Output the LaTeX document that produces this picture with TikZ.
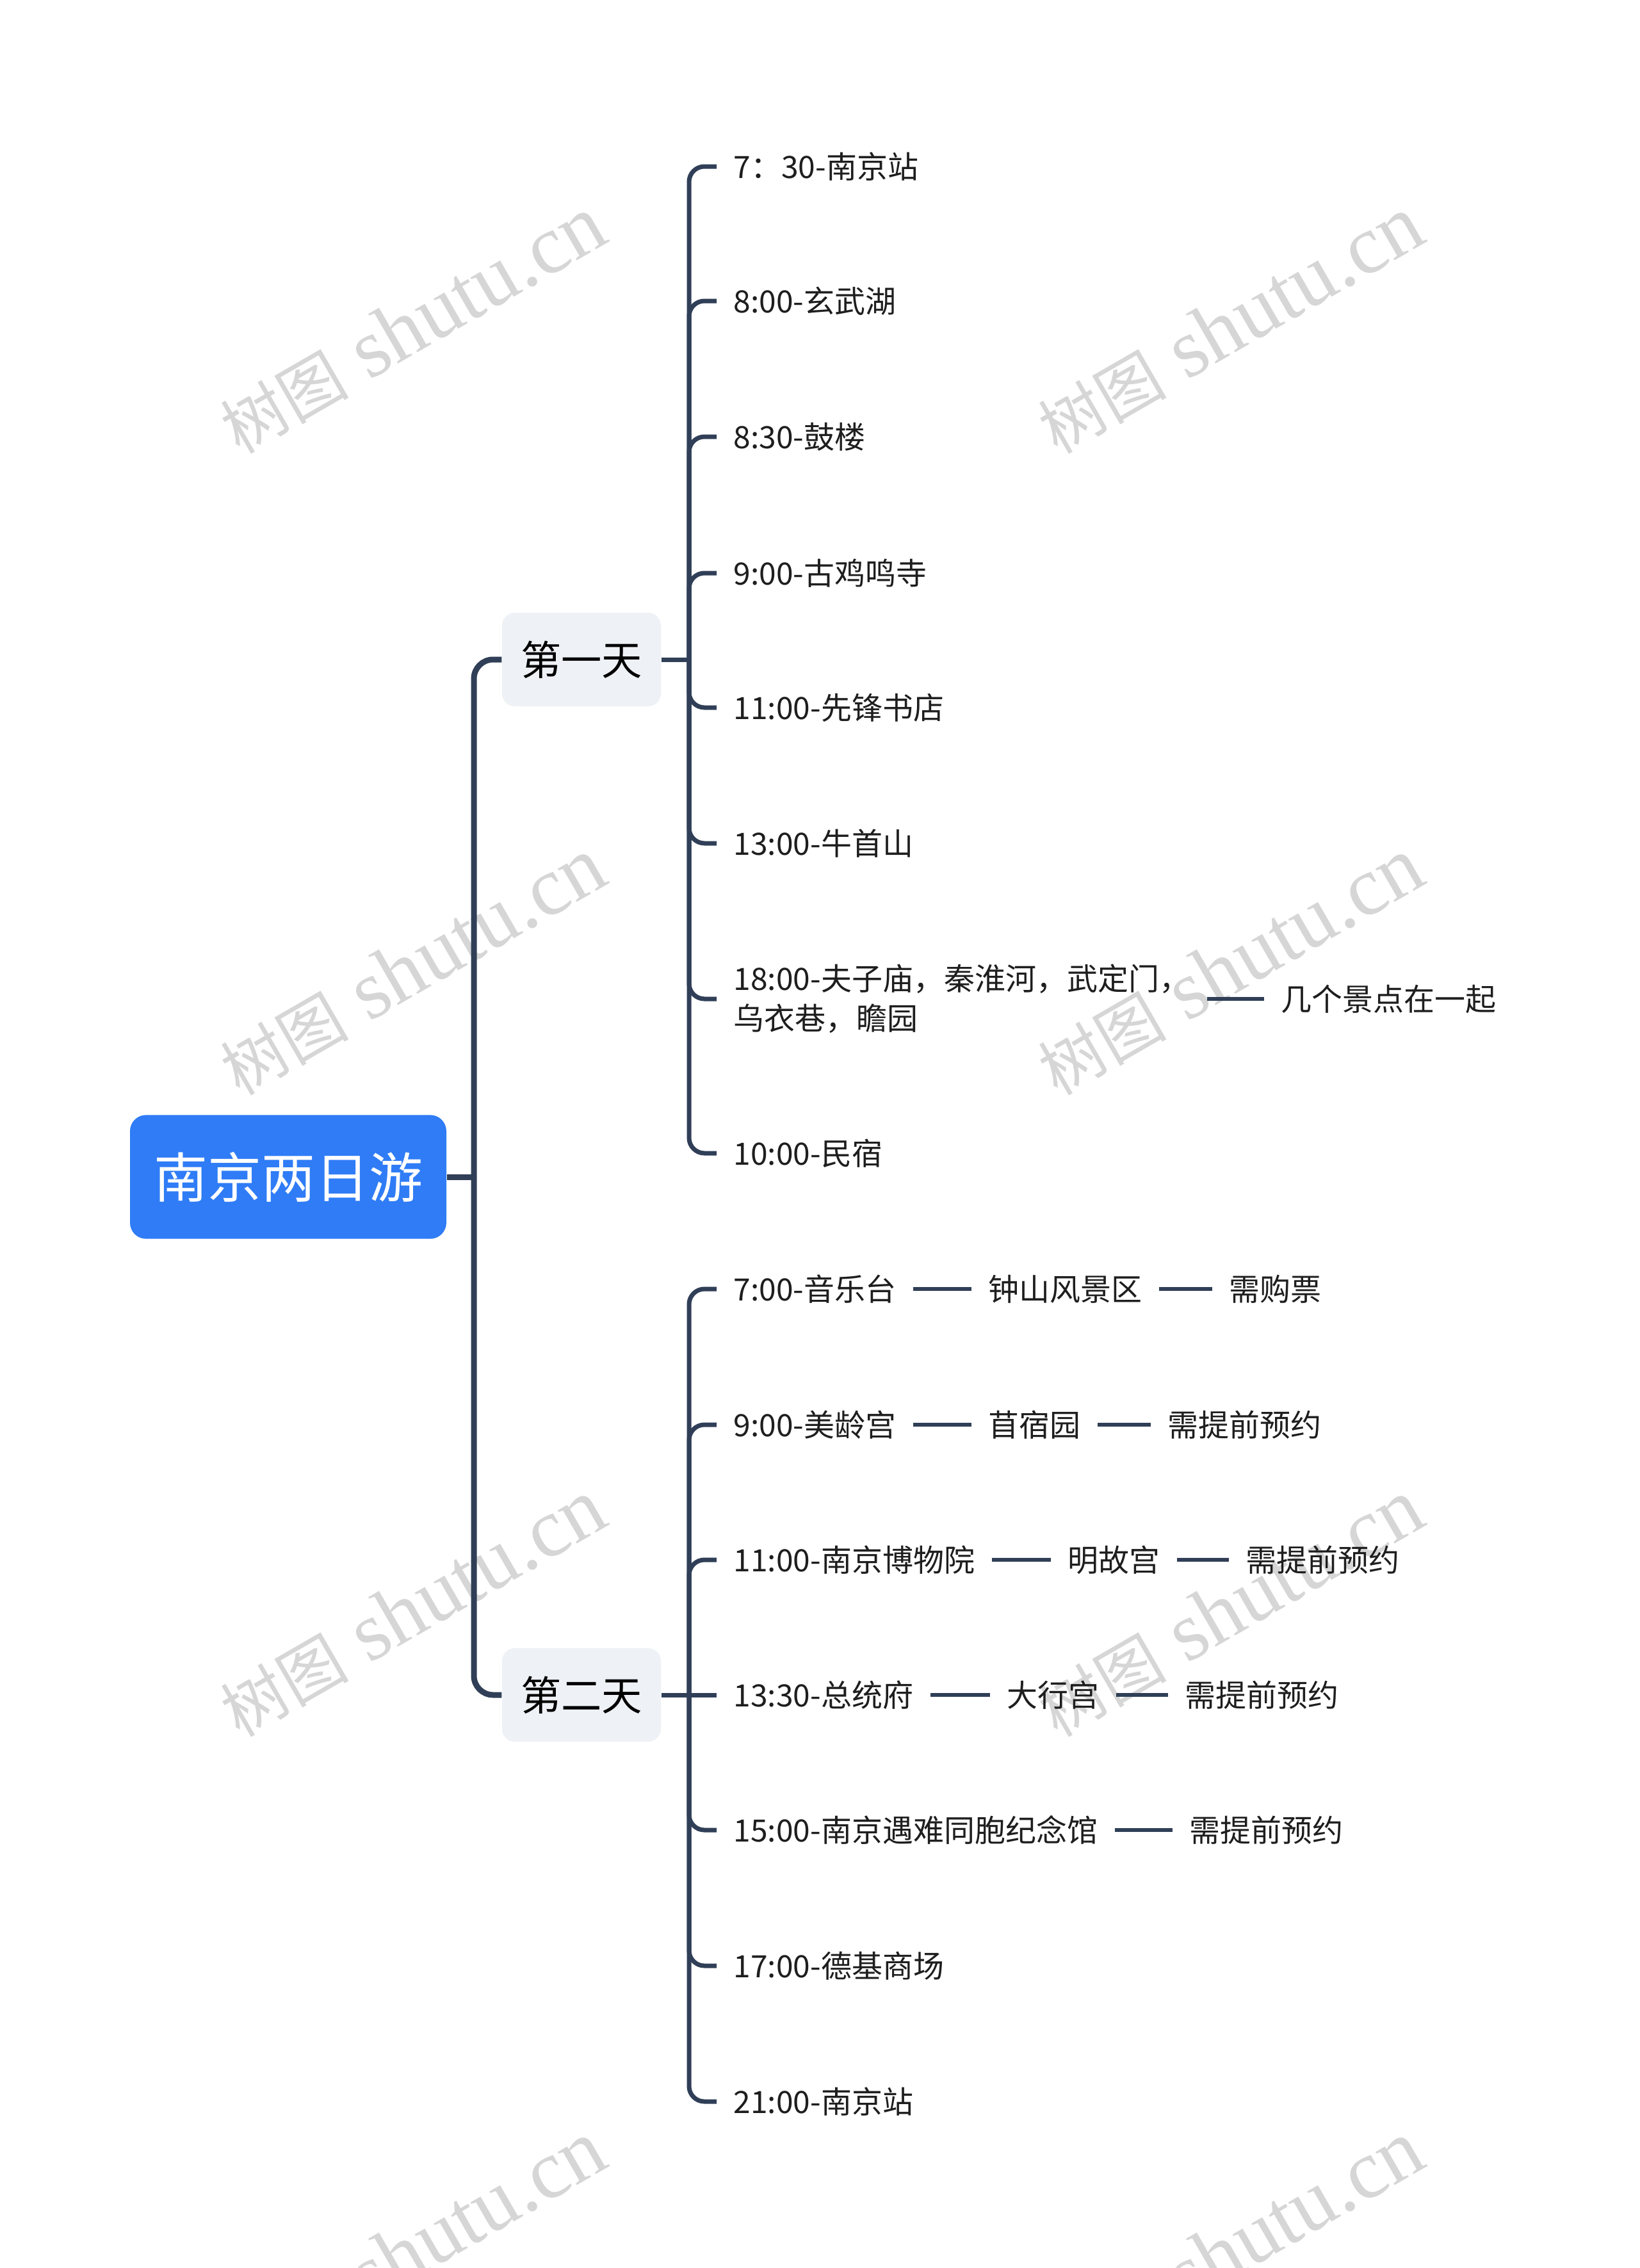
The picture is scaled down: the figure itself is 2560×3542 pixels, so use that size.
\documentclass[tikz,border=0pt]{standalone}
\usepackage{fontspec}
\setmainfont{Noto Sans CJK SC}
\newfontfamily\wmlatin{Liberation Serif}
\newfontfamily\wmcjk{Noto Sans CJK SC}
\definecolor{linec}{HTML}{303F57}
\definecolor{rootblue}{HTML}{2F7CF6}
\definecolor{dayfill}{HTML}{EEF1F5}
\definecolor{wmc}{HTML}{D6D6D6}
\definecolor{txtc}{HTML}{1E1E1E}
\begin{document}
\begin{tikzpicture}[x=0.3pt,y=-0.3pt,
  rootbox/.style={rectangle, rounded corners=7.5pt, fill=rootblue, text=white,
    font=\fontsize{25.2}{30}\selectfont, minimum width=148.2pt, minimum height=58pt, inner sep=0pt},
  daybox/.style={rectangle, rounded corners=6pt, fill=dayfill, text=black,
    font=\fontsize{19}{23}\selectfont, minimum width=74.4pt, minimum height=43.8pt, inner sep=0pt},
  leaf/.style={anchor=west, inner xsep=7.8pt, inner ysep=2pt,
    font=\fontsize{14.4}{18.6}\selectfont, text=txtc, align=left},
  mainline/.style={draw=linec, line width=2.7pt, rounded corners=9pt},
  subline/.style={draw=linec, line width=2.1pt, rounded corners=7.2pt},
  tie/.style={draw=linec, line width=2pt},
  wm/.style={text=wmc, rotate=30, inner sep=0pt}
]
\useasboundingbox (0,0) rectangle (2560,3542);
\fill[white] (0,0) rectangle (2560,3542);

% watermarks
\foreach \wx/\wy [count=\i] in {644/508,1921/508,644/1510,1921/1510,644/2512,1921/2512,644/3514,1921/3514}{
  \node[wm] (wm\i) at (\wx,\wy) {\fontsize{30}{34}\wmcjk 树图\fontsize{39}{42}\wmlatin{} shutu.cn};
}

% root and days
\node[rootbox] (root) at (450,1838) {南京两日游};
\node[daybox] (d1) at (908,1030) {第一天};
\node[daybox] (d2) at (908,2647) {第二天};

\coordinate (jr) at (740,1838);
\coordinate (j1) at (1076,1030);
\coordinate (j2) at (1076,2647);

\draw[mainline] (root.east) -- (jr);
\draw[mainline] (jr) |- (d1.west);
\draw[mainline] (jr) |- (d2.west);
\draw[subline] (d1.east) -- (j1);
\draw[subline] (d2.east) -- (j2);

% day 1 leaves
\node[leaf] (a1) at (1119,260) {7：30-南京站};
\node[leaf] (a2) at (1119,470) {8:00-玄武湖};
\node[leaf] (a3) at (1119,682) {8:30-鼓楼};
\node[leaf] (a4) at (1119,895) {9:00-古鸡鸣寺};
\node[leaf] (a5) at (1119,1105) {11:00-先锋书店};
\node[leaf] (a6) at (1119,1317) {13:00-牛首山};
\node[leaf] (a7) at (1119,1560) {18:00-夫子庙，秦淮河，武定门，\\乌衣巷，瞻园};
\node[leaf] (a8) at (1119,1801) {10:00-民宿};
\node[leaf] (a7b) at (1974,1560) {几个景点在一起};

\foreach \n in {a1,a2,a3,a4,a5,a6,a7,a8}{
  \draw[subline] (j1) |- (\n.west);
}
\draw[tie] (a7.east) -- (a7b.west);

% day 2 leaves
\node[leaf] (b1) at (1119,2013) {7:00-音乐台};
\node[leaf] (b1b) at (1517,2013) {钟山风景区};
\node[leaf] (b1c) at (1893,2013) {需购票};
\node[leaf] (b2) at (1119,2225) {9:00-美龄宫};
\node[leaf] (b2b) at (1517,2225) {苜宿园};
\node[leaf] (b2c) at (1797,2225) {需提前预约};
\node[leaf] (b3) at (1119,2436) {11:00-南京博物院};
\node[leaf] (b3b) at (1641,2436) {明故宫};
\node[leaf] (b3c) at (1919,2436) {需提前预约};
\node[leaf] (b4) at (1119,2647) {13:30-总统府};
\node[leaf] (b4b) at (1546,2647) {大行宫};
\node[leaf] (b4c) at (1824,2647) {需提前预约};
\node[leaf] (b5) at (1119,2858) {15:00-南京遇难同胞纪念馆};
\node[leaf] (b5b) at (1831,2858) {需提前预约};
\node[leaf] (b6) at (1119,3070) {17:00-德基商场};
\node[leaf] (b7) at (1119,3282) {21:00-南京站};

\foreach \n in {b1,b2,b3,b5,b6,b7}{
  \draw[subline] (j2) |- (\n.west);
}
\draw[subline] (j2) -- (b4.west);

\draw[tie] (b1.east) -- (b1b.west);
\draw[tie] (b1b.east) -- (b1c.west);
\draw[tie] (b2.east) -- (b2b.west);
\draw[tie] (b2b.east) -- (b2c.west);
\draw[tie] (b3.east) -- (b3b.west);
\draw[tie] (b3b.east) -- (b3c.west);
\draw[tie] (b4.east) -- (b4b.west);
\draw[tie] (b4b.east) -- (b4c.west);
\draw[tie] (b5.east) -- (b5b.west);
\end{tikzpicture}
\end{document}
